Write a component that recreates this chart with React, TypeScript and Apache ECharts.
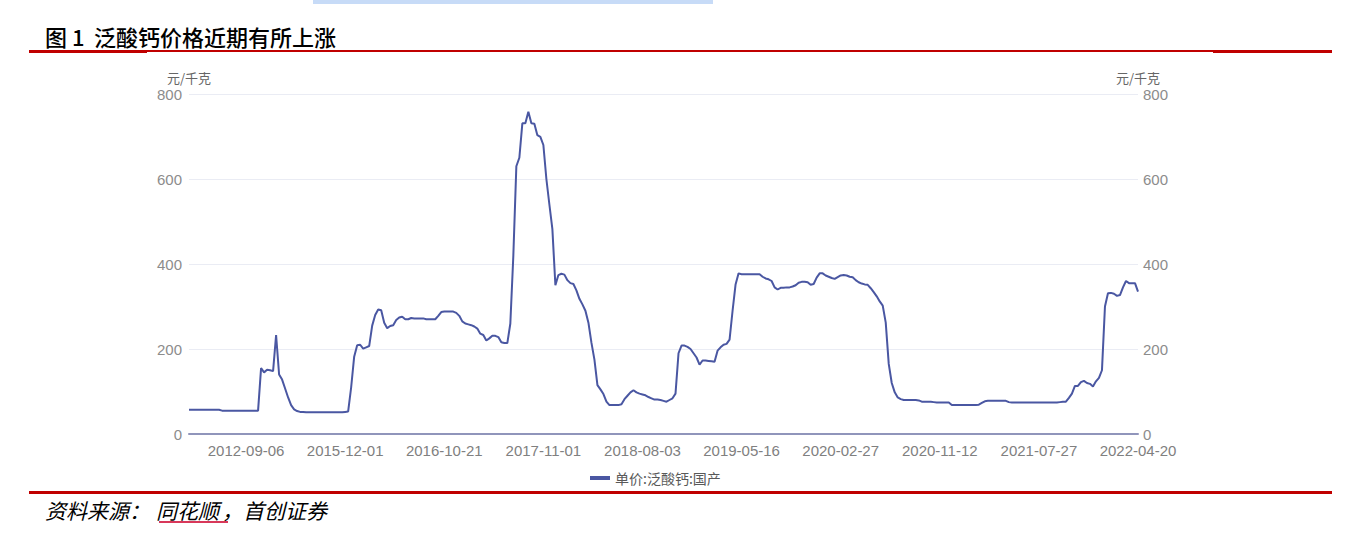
import React, { useEffect, useRef } from "react";
import * as echarts from "echarts";

// ---- data ----
const tickLabels = [
  "2012-09-06", "2015-12-01", "2016-10-21", "2017-11-01", "2018-08-03",
  "2019-05-16", "2020-02-27", "2020-11-12", "2021-07-27", "2022-04-20",
];
// category index at which each tick label sits
const tickIndex = [19, 52, 85, 118, 151, 184, 217, 250, 283, 316];

// 单价:泛酸钙:国产 (元/千克), one value per category
const prices = [
  57, 57, 57, 57, 57, 57, 57, 57, 57, 57,
  57, 55, 55, 55, 55, 55, 55, 55, 55, 55,
  55, 55, 55, 55, 155, 145, 151, 150, 148, 233,
  140, 128, 107, 86, 68, 58, 54, 52, 52, 51,
  51, 51, 51, 51, 51, 51, 51, 51, 51, 51,
  51, 51, 52, 53, 110, 182, 209, 210, 201, 204,
  207, 255, 280, 293, 291, 262, 249, 254, 256, 268,
  274, 276, 270, 270, 273, 272, 272, 272, 272, 270,
  270, 270, 270, 278, 287, 288, 288, 288, 288, 285,
  278, 265, 260, 258, 256, 253, 248, 236, 233, 220,
  225, 231, 231, 228, 216, 214, 214, 260, 420, 630,
  650, 731, 731, 758, 731, 730, 703, 699, 680, 600,
  540, 482, 350, 374, 377, 375, 362, 355, 353, 338,
  318, 305, 290, 262, 215, 175, 115, 105, 94, 76,
  68, 68, 68, 68, 70, 82, 90, 98, 103, 98,
  95, 93, 91, 87, 84, 81, 81, 80, 78, 76,
  80, 84, 95, 190, 208, 208, 205, 200, 190, 180,
  163, 173, 173, 172, 171, 170, 196, 204, 210, 212,
  222, 290, 352, 378, 376, 376, 376, 376, 376, 376,
  376, 370, 366, 364, 360, 345, 340, 344, 344, 345,
  345, 347, 350, 356, 358, 358, 357, 351, 353, 368,
  378, 378, 373, 370, 367, 365, 369, 373, 374, 373,
  370, 369, 362, 357, 354, 352, 351, 343, 334, 324,
  312, 302, 262, 165, 120, 98, 86, 82, 80, 80,
  80, 80, 80, 79, 76, 76, 76, 76, 75, 74,
  74, 74, 74, 74, 68, 68, 68, 68, 68, 68,
  68, 68, 68, 69, 73, 77, 78, 78, 78, 78,
  78, 78, 78, 75, 74, 74, 74, 74, 74, 74,
  74, 74, 74, 74, 74, 74, 74, 74, 74, 74,
  75, 76, 76, 85, 95, 113, 113, 122, 125, 120,
  118, 112, 124, 132, 150, 300, 331, 332, 330, 325,
  327, 345, 360, 355, 355, 355, 335,
];

const seriesName = "单价:泛酸钙:国产";
const unitName = "元/千克";
const titleNo = "图 1";
const titleText = "泛酸钙价格近期有所上涨";
const sourceParts = ["资料来源：", "同花顺", "，首创证券"];

// ---- helpers: category dates anchored on the tick labels ----
const DAY = 86400000;
function toTime(s: string) {
  const [y, m, d] = s.split("-").map(Number);
  return Date.UTC(y, m - 1, d);
}
function fmt(t: number) {
  const d = new Date(t);
  const p = (n: number) => String(n).padStart(2, "0");
  return `${d.getUTCFullYear()}-${p(d.getUTCMonth() + 1)}-${p(d.getUTCDate())}`;
}
function buildCategories(): string[] {
  const out: string[] = [];
  for (let i = 0; i < prices.length; i++) {
    let k = 0;
    while (k < tickIndex.length - 2 && i > tickIndex[k + 1]) k++;
    const i0 = tickIndex[k];
    const i1 = tickIndex[k + 1];
    const t0 = toTime(tickLabels[k]);
    const t1 = toTime(tickLabels[k + 1]);
    const t = t0 + ((t1 - t0) * (i - i0)) / (i1 - i0);
    out.push(fmt(Math.round(t / DAY) * DAY));
  }
  return out;
}

const categories = buildCategories();
const tickSet = new Set(tickIndex);

const LINE_COLOR = "#4a57a2";
const RED = "#c00000";
const CJK = "'Noto Sans CJK SC', sans-serif";
const LATIN = "'Liberation Sans', Arial, sans-serif";

function buildOption(): any {
  const yCommon = {
    type: "value",
    min: 0,
    max: 800,
    interval: 200,
    name: unitName,
    nameLocation: "end",
    nameGap: 10,
    nameTextStyle: { color: "#666", fontSize: 13, fontFamily: CJK },
    axisLine: { show: false },
    axisTick: { show: false },
  };
  const titleStyle = { fontSize: 22, fontWeight: 500, fontFamily: CJK, fill: "#000", verticalAlign: "middle" };
  const srcStyle = { fontSize: 21, fontStyle: "italic", fontFamily: CJK, fill: "#000", verticalAlign: "middle" };
  return {
    animation: false,
    backgroundColor: "#ffffff",
    grid: { left: 189, right: 222, top: 94, bottom: 107, outerBoundsMode: "none" },
    legend: {
      data: [seriesName],
      left: 585,
      top: 466,
      icon: "rect",
      itemWidth: 20,
      itemHeight: 4,
      textStyle: { color: "#595959", fontSize: 14, fontFamily: CJK },
    },
    xAxis: {
      type: "category",
      data: categories,
      boundaryGap: false,
      axisLine: { lineStyle: { color: "#9095bb", width: 2 } },
      axisTick: { show: false },
      splitLine: { show: false },
      axisLabel: {
        interval: (idx: number) => tickSet.has(idx),
        color: "#808080",
        fontSize: 15,
        fontFamily: LATIN,
        margin: 9,
        hideOverlap: false,
      },
    },
    yAxis: [
      {
        ...yCommon,
        position: "left",
        axisLabel: { color: "#8c8c8c", fontSize: 15, fontFamily: LATIN, margin: 7 },
        splitLine: { show: true, lineStyle: { color: "#eaecf4", width: 1 } },
      },
      {
        ...yCommon,
        position: "right",
        axisLabel: { color: "#8c8c8c", fontSize: 15, fontFamily: LATIN, margin: 5 },
        splitLine: { show: false },
      },
    ],
    series: [
      {
        name: seriesName,
        type: "line",
        data: prices,
        yAxisIndex: 0,
        symbol: "none",
        showSymbol: false,
        lineStyle: { color: LINE_COLOR, width: 2 },
        itemStyle: { color: LINE_COLOR },
      },
    ],
    graphic: [
      { type: "rect", shape: { x: 313, y: 0, width: 400, height: 4 }, style: { fill: "#c7dbf7" } },
      { type: "text", x: 45, y: 36, style: { text: titleNo, ...titleStyle } },
      { type: "text", x: 94, y: 36, style: { text: titleText, ...titleStyle } },
      { type: "line", shape: { x1: 29, y1: 51, x2: 1332, y2: 51 }, style: { stroke: RED, lineWidth: 2 } },
      { type: "rect", shape: { x: 29, y: 50, width: 118, height: 3 }, style: { fill: RED } },
      { type: "rect", shape: { x: 1213, y: 50, width: 119, height: 3 }, style: { fill: RED } },
      { type: "rect", shape: { x: 29, y: 491, width: 1303, height: 3 }, style: { fill: RED } },
      { type: "text", x: 45, y: 510, style: { text: sourceParts[0], ...srcStyle } },
      { type: "text", x: 156, y: 510, style: { text: sourceParts[1], ...srcStyle } },
      { type: "text", x: 222, y: 510, style: { text: sourceParts[2], ...srcStyle } },
      { type: "line", shape: { x1: 159, y1: 522, x2: 228, y2: 522 }, style: { stroke: "#d8385a", lineWidth: 2 } },
    ],
  };
}

export default function App() {
  const ref = useRef<HTMLDivElement>(null);
  useEffect(() => {
    if (!ref.current) return;
    const chart = echarts.init(ref.current, null, { renderer: "svg" });
    chart.setOption(buildOption());
    return () => chart.dispose();
  }, []);
  return (
    <div
      ref={ref}
      style={{ position: "absolute", left: 0, top: 0, width: 1360, height: 541, background: "#fff" }}
    />
  );
}
